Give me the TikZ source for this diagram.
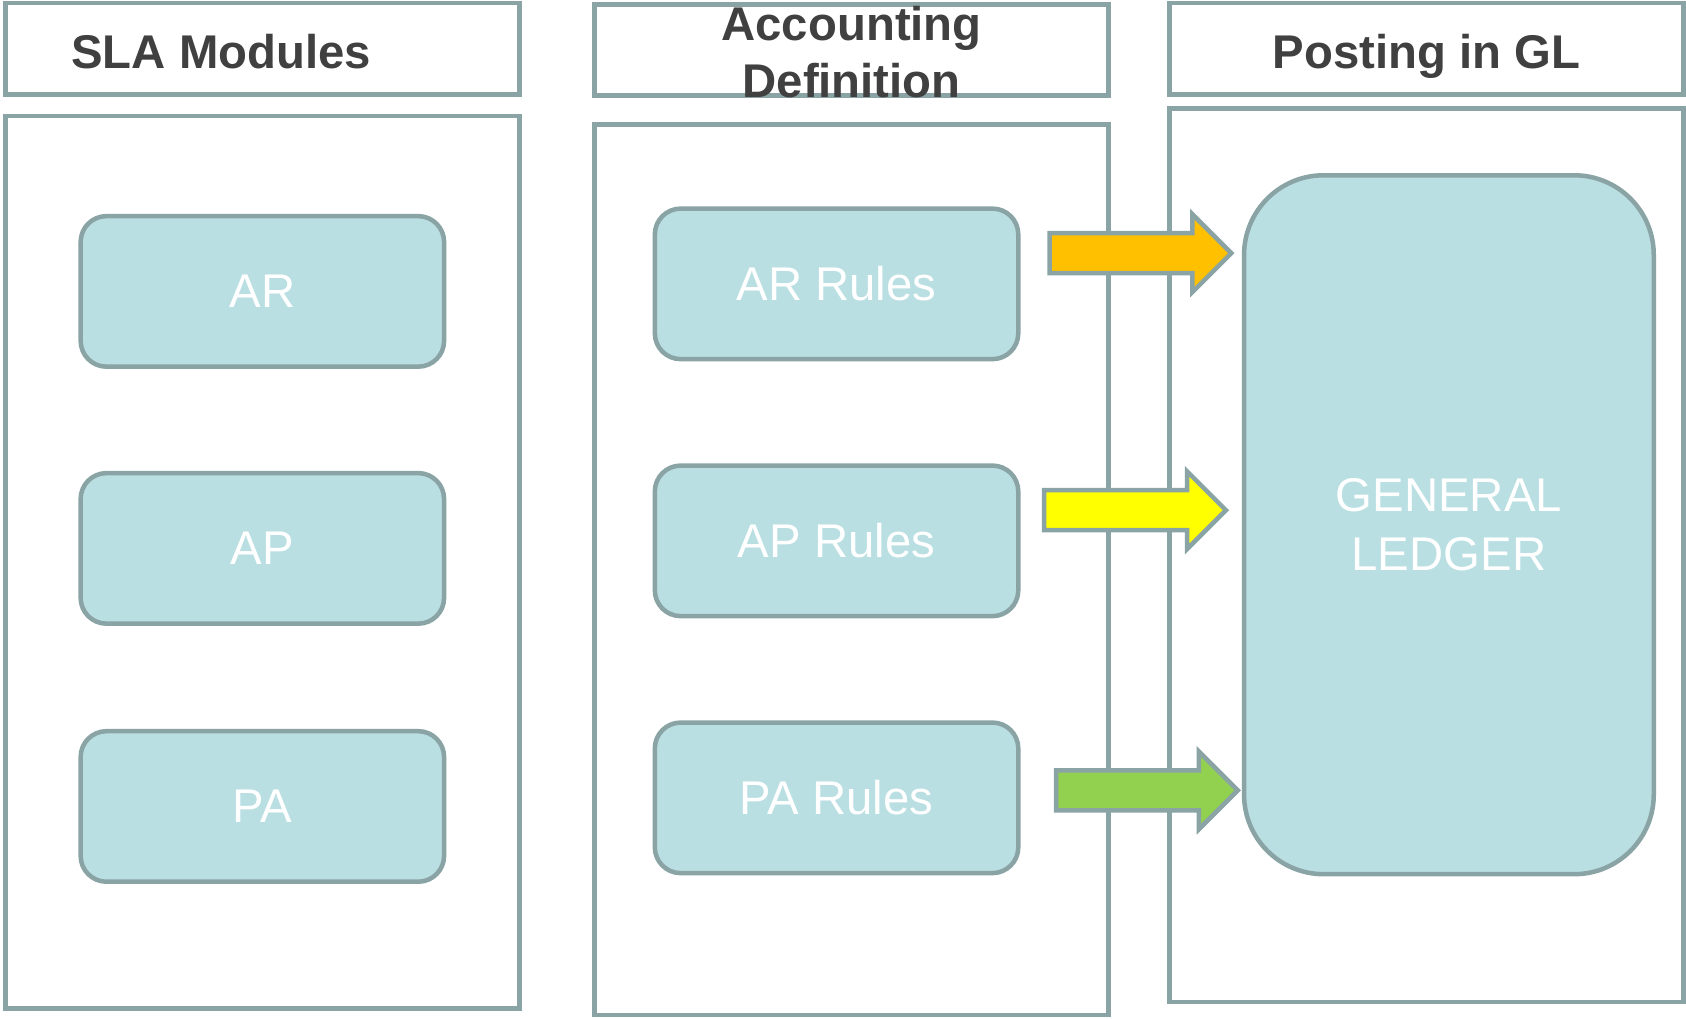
\documentclass[tikz,border=0pt]{standalone}
\usepackage{fontspec}
\setmainfont{Liberation Sans}
\usepackage{tikz}
\usetikzlibrary{shapes.arrows}
\usepackage{xcolor}
\definecolor{slaborder}{RGB}{138,164,166}
\definecolor{slafill}{RGB}{186,223,226}
\definecolor{slatitle}{RGB}{64,64,64}
\definecolor{ruleorange}{RGB}{255,192,0}
\definecolor{ruleyellow}{RGB}{255,255,0}
\definecolor{rulegreen}{RGB}{146,208,80}

\tikzset{
    colbox/.style={rectangle,draw=slaborder,line width=2.1pt,fill=white,inner sep=0pt,minimum width=239pt},
    modbox/.style={rectangle,draw=slaborder,line width=2.1pt,fill=slafill,rounded corners=12pt,minimum width=169pt,minimum height=70pt,text=white,font=\fontsize{22}{26}\selectfont},
    coltitle/.style={text=slatitle,font=\bfseries\fontsize{22}{26.5}\selectfont,inner sep=0pt,align=center},
    flowarrow/.style={single arrow,draw=slaborder,line width=2.1pt,inner xsep=0pt,inner ysep=8.25pt,minimum height=84.5pt,single arrow head extend=8.75pt,single arrow tip angle=90,anchor=tail}
}

\begin{document}
\begin{tikzpicture}[x=0.5pt,y=-0.5pt]
        \useasboundingbox (0,0) rectangle (1568,947);

        % Column headers
        \node[colbox,minimum height=42.5pt] (hdrsla) at (244,45.5) {};
        \node[colbox,minimum height=42.5pt] (hdracct) at (792,46.5) {};
        \node[colbox,minimum height=42.5pt] (hdrgl) at (1326.5,45.5) {};
        \node[coltitle,anchor=base west] (ttlsla) at (66,64) {SLA Modules};
        \node[coltitle] (ttlacct) at (792,48) {Accounting\\Definition};
        \node[coltitle,anchor=base] (ttlgl) at (1326.5,64) {Posting in GL};

        % Column bodies
        \node[colbox,minimum height=415pt] (colsla) at (244,523) {};
        \node[colbox,minimum height=414pt] (colacct) at (792,530) {};
        \node[colbox,minimum height=415.5pt] (colgl) at (1326.5,516.5) {};

        % SLA modules
        \node[modbox] (ar) at (244,271) {AR};
        \node[modbox] (ap) at (244,510) {AP};
        \node[modbox] (pa) at (244,750) {PA};

        % Accounting rules
        \node[modbox] (arrules) at (778,264) {AR Rules};
        \node[modbox] (aprules) at (778,503) {AP Rules};
        \node[modbox] (parules) at (778,742) {PA Rules};

        % General ledger
        \node[modbox,minimum width=190.5pt,minimum height=325pt,rounded corners=37pt,align=center,font=\fontsize{22}{27}\selectfont] (gl) at (1347.5,488) {GENERAL\\LEDGER};

        % Posting arrows
        \node[flowarrow,fill=ruleorange] (postar) at (974,235.5) {};
        \node[flowarrow,fill=ruleyellow] (postap) at (969,474.5) {};
        \node[flowarrow,fill=rulegreen] (postpa) at (980,735) {};
    \end{tikzpicture}
\end{document}
